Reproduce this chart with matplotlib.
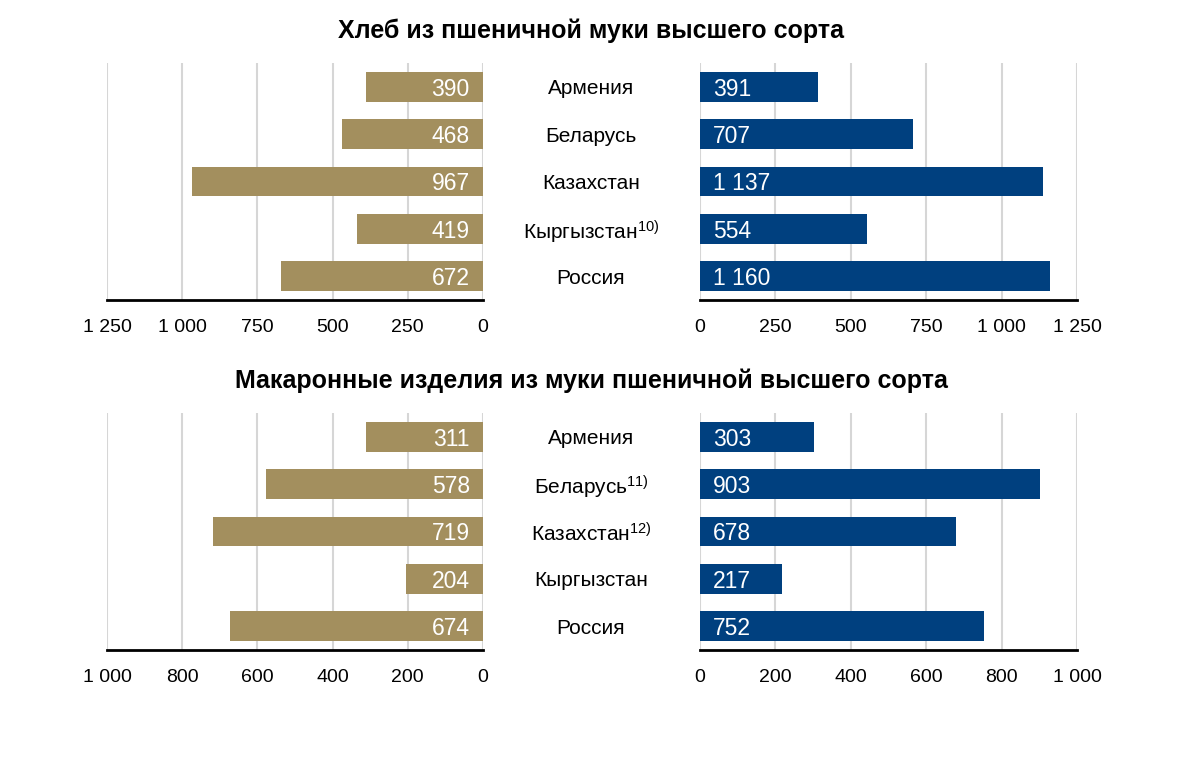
import matplotlib
matplotlib.use("Agg")
import matplotlib.pyplot as plt

plt.rcParams["font.family"] = ["Liberation Sans", "DejaVu Sans"]
plt.rcParams["mathtext.fontset"] = "custom"
plt.rcParams["mathtext.rm"] = "Liberation Sans"
plt.rcParams["mathtext.it"] = "Liberation Sans"

countries_bread = ["Армения", "Беларусь", "Казахстан", "Кыргызстан$^{\\mathrm{10)}}$", "Россия"]
bread_left = [390, 468, 967, 419, 672]
bread_right = [391, 707, 1137, 554, 1160]
bread_ticks = [0, 250, 500, 750, 1000, 1250]

countries_pasta = ["Армения", "Беларусь$^{\\mathrm{11)}}$", "Казахстан$^{\\mathrm{12)}}$", "Кыргызстан", "Россия"]
pasta_left = [311, 578, 719, 204, 674]
pasta_right = [303, 903, 678, 217, 752]
pasta_ticks = [0, 200, 400, 600, 800, 1000]

gold = "#A38F5E"
blue = "#00407F"
W, H = 1200, 761

fig = plt.figure(figsize=(12, 7.61), dpi=100)


def fmt(v):
    return f"{v:,}".replace(",", " ")


def style(ax, ticks, invert):
    ax.set_xlim(0, ticks[-1])
    if invert:
        ax.invert_xaxis()
    ax.set_ylim(4.5, -0.5)
    ax.set_xticks(ticks)
    ax.set_xticklabels([fmt(t) for t in ticks], fontsize=14)
    ax.set_yticks([])
    ax.tick_params(axis="x", length=0, pad=14)
    for s in ["top", "left", "right"]:
        ax.spines[s].set_visible(False)
    ax.spines["bottom"].set_linewidth(2)
    ax.spines["bottom"].set_color("black")
    ax.grid(axis="x", color="#D6D6D6", linewidth=1.5)
    ax.set_axisbelow(True)


def panel(top, bottom, title, countries, left_vals, right_vals, ticks):
    y0 = 1 - bottom / H
    h = (bottom - top) / H
    axl = fig.add_axes([107 / W, y0, 376 / W, h])
    axr = fig.add_axes([700 / W, y0, 377 / W, h])
    pos = range(len(countries))
    axl.barh(pos, left_vals, height=0.63, color=gold, zorder=2)
    axr.barh(pos, right_vals, height=0.63, color=blue, zorder=2)
    style(axl, ticks, True)
    style(axr, ticks, False)
    off = ticks[-1] * 0.035
    for i in pos:
        axl.text(off, i, fmt(left_vals[i]), color="white", fontsize=16.5,
                 ha="right", va="center_baseline", zorder=3)
        axr.text(off, i, fmt(right_vals[i]), color="white", fontsize=16.5,
                 ha="left", va="center_baseline", zorder=3)
        fig.text(591 / W, 1 - (top + (i + 0.5) * (bottom - top) / 5) / H,
                 countries[i], fontsize=15, ha="center", va="center_baseline")
    fig.text(591 / W, 1 - (top - 32) / H, title, fontsize=18,
             fontweight="bold", ha="center", va="center")


panel(63, 300, "Хлеб из пшеничной муки высшего сорта",
      countries_bread, bread_left, bread_right, bread_ticks)
panel(413, 650, "Макаронные изделия из муки пшеничной высшего сорта",
      countries_pasta, pasta_left, pasta_right, pasta_ticks)

fig.savefig("out.png", dpi=100, facecolor="white")
